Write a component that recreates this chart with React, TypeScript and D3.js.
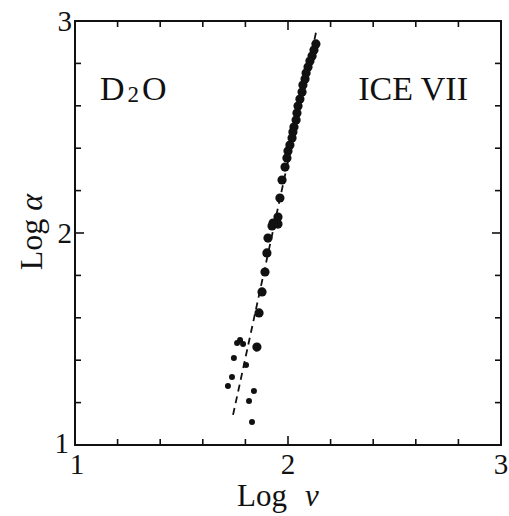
import * as d3 from 'd3';

// Log nu / Log alpha values
const mainNu = [2.131, 2.122, 2.113, 2.103, 2.094, 2.085, 2.080, 2.070, 2.066, 2.056, 2.047, 2.042, 2.038, 2.028, 2.023, 2.019, 2.009, 2.000, 1.995, 1.986, 1.972, 1.962, 1.953, 1.930, 1.925, 1.953, 1.906, 1.901, 1.892, 1.878, 1.864, 1.854];
const mainAlpha = [2.892, 2.863, 2.835, 2.811, 2.783, 2.755, 2.726, 2.698, 2.665, 2.632, 2.599, 2.566, 2.533, 2.500, 2.476, 2.448, 2.415, 2.387, 2.354, 2.311, 2.250, 2.165, 2.075, 2.047, 2.033, 2.042, 1.976, 1.906, 1.816, 1.722, 1.623, 1.462];

// smaller scattered points at the low end
const smallNu = [1.775, 1.761, 1.789, 1.746, 1.803, 1.737, 1.718, 1.840, 1.817, 1.831];
const smallAlpha = [1.495, 1.481, 1.476, 1.410, 1.377, 1.321, 1.278, 1.255, 1.208, 1.108];

// dashed fit line ends
const fitNu = [1.742, 2.136];
const fitAlpha = [1.142, 2.967];

const majorTicks = [1, 2, 3];
const tickLabels = ['1', '2', '3'];

const margin = { left: 75, right: 8, top: 21, bottom: 71 };
const W = 509;
const H = 516;
const font = '"Liberation Serif", "DejaVu Serif", serif';

export default function App() {
    const x = d3.scaleLinear().domain([1, 3]).range([margin.left, W - margin.right]);
    const y = d3.scaleLinear().domain([1, 3]).range([H - margin.bottom, margin.top]);

    const minor = d3.range(1.2, 2.99, 0.2).filter(v => Math.abs(v - 2) > 0.01);

    const fitLine = d3.line<number>()
        .x(d => x(fitNu[d]))
        .y(d => y(fitAlpha[d]));

    const x0 = x(1), x1 = x(3), y0 = y(1), y1 = y(3);

    return (
        <div style={{ position: 'absolute', left: 0, top: 0 }}>
            <svg width={W} height={H} style={{ display: 'block', background: '#fff' }}>
                {/* frame */}
                <rect x={x0} y={y1} width={x1 - x0} height={y0 - y1}
                    fill="none" stroke="#111" strokeWidth={2} />

                {/* minor ticks, all four sides, pointing in */}
                {minor.map((v, i) => (
                    <g key={'m' + i} stroke="#111" strokeWidth={1.6}>
                        <line x1={x(v)} x2={x(v)} y1={y0} y2={y0 - 6} />
                        <line x1={x(v)} x2={x(v)} y1={y1} y2={y1 + 6} />
                        <line x1={x0} x2={x0 + 6} y1={y(v)} y2={y(v)} />
                        <line x1={x1} x2={x1 - 6} y1={y(v)} y2={y(v)} />
                    </g>
                ))}
                {/* major tick at 2 */}
                <g stroke="#111" strokeWidth={1.6}>
                    <line x1={x(2)} x2={x(2)} y1={y0} y2={y0 - 9} />
                    <line x1={x(2)} x2={x(2)} y1={y1} y2={y1 + 9} />
                    <line x1={x0} x2={x0 + 9} y1={y(2)} y2={y(2)} />
                    <line x1={x1} x2={x1 - 9} y1={y(2)} y2={y(2)} />
                </g>

                {/* tick labels */}
                <g fontFamily={font} fontSize={29} fill="#111">
                    {majorTicks.map((v, i) => (
                        <text key={'xl' + i} x={x(v) + (i === 0 ? 2 : 0)} y={y0 + 29} textAnchor="middle">{tickLabels[i]}</text>
                    ))}
                    {majorTicks.map((v, i) => (
                        <text key={'yl' + i} x={x0 - (i === 0 ? 6 : 3)} y={y(v) + (i === 0 ? 8 : 10)} textAnchor="end">{tickLabels[i]}</text>
                    ))}
                </g>

                {/* axis titles */}
                <text x={237} y={506} fontFamily={font} fontSize={31} fill="#111">
                    Log<tspan dx={18} fontStyle="italic">ν</tspan>
                </text>
                <text transform={`translate(42, 232) rotate(-90)`} textAnchor="middle"
                    fontFamily={font} fontSize={32} fill="#111">
                    Log <tspan fontStyle="italic">α</tspan>
                </text>

                {/* in-plot labels */}
                <text x={100} y={100} fontFamily={font} fontSize={34} fill="#111">
                    D<tspan fontSize={23} dx={3} dy={2}>2</tspan><tspan dx={3} dy={-2}>O</tspan>
                </text>
                <text x={468} y={100} textAnchor="end" fontFamily={font} fontSize={34} fill="#111">ICE VII</text>

                {/* dashed fit */}
                <path d={fitLine([0, 1]) || ''} fill="none" stroke="#111" strokeWidth={1.8}
                    strokeDasharray="7,5" />

                {/* points */}
                {mainNu.map((v, i) => (
                    <circle key={'p' + i} cx={x(v)} cy={y(mainAlpha[i])} r={4.6} fill="#111" />
                ))}
                {smallNu.map((v, i) => (
                    <circle key={'s' + i} cx={x(v)} cy={y(smallAlpha[i])} r={3} fill="#111" />
                ))}
            </svg>
        </div>
    );
}
